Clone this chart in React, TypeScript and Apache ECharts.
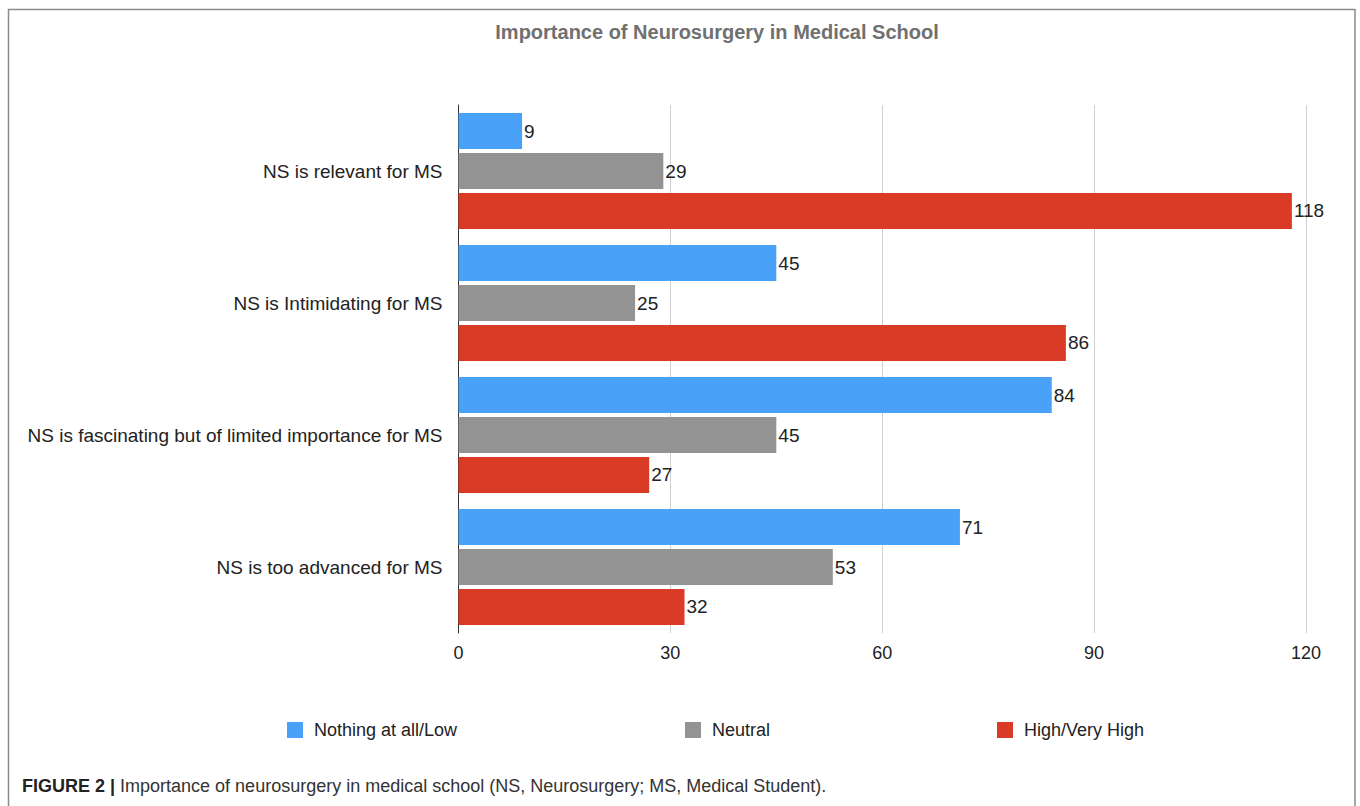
import React, { useEffect, useRef } from "react";
import * as echarts from "echarts";

const categories = [
  "NS is relevant for MS",
  "NS is Intimidating for MS",
  "NS is fascinating but of limited importance for MS",
  "NS is too advanced for MS",
];
const seriesNames = ["Nothing at all/Low", "Neutral", "High/Very High"];
const lowValues = [9, 45, 84, 71];
const neutralValues = [29, 25, 45, 53];
const highValues = [118, 86, 27, 32];
const xTicks = [0, 30, 60, 90, 120];

const COLORS = ["#4aa2f8", "#939393", "#da3b26"];
const FONT = "Liberation Sans, Helvetica, Arial, sans-serif";

export default function App() {
  const ref = useRef<HTMLDivElement>(null);
  useEffect(() => {
    if (!ref.current) return;
    const chart = echarts.init(ref.current, undefined, { renderer: "svg" });
    const dataSets = [lowValues, neutralValues, highValues];
    const legendLefts = [282, 680, 992];
    chart.setOption({
      animation: false,
      textStyle: { fontFamily: FONT },
      title: {
        text: "Importance of Neurosurgery in Medical School",
        left: 712,
        top: 17,
        textAlign: "center",
        textStyle: { fontSize: 20, fontWeight: "bold", color: "#707070", fontFamily: FONT },
      },
      legend: seriesNames.map((n, i) => ({
        data: [n],
        left: legendLefts[i],
        top: 716,
        itemWidth: 16,
        itemHeight: 16,
        icon: "rect",
        textStyle: { fontSize: 18, color: "#222", fontFamily: FONT, padding: [0, 0, 0, 6] },
      })),
      grid: { left: 458.5, right: 54, top: 105, bottom: 173, containLabel: false },
      xAxis: {
        type: "value",
        min: xTicks[0],
        max: xTicks[xTicks.length - 1],
        interval: 30,
        axisLine: { show: false },
        axisTick: { show: false },
        splitLine: { show: true, lineStyle: { color: "#d0d0d0", width: 1 } },
        axisLabel: { fontSize: 18, color: "#222", margin: 11, fontFamily: FONT },
      },
      yAxis: {
        type: "category",
        data: categories,
        inverse: true,
        axisLine: { show: true, lineStyle: { color: "#333", width: 1 } },
        axisTick: { show: false },
        axisLabel: { fontSize: 19, color: "#222", margin: 16, fontFamily: FONT },
      },
      series: seriesNames.map((n, i) => ({
        name: n,
        type: "bar",
        data: dataSets[i],
        barWidth: 36,
        barGap: "11%",
        itemStyle: { color: COLORS[i] },
        label: {
          show: true,
          position: "right",
          distance: 2,
          fontSize: 19,
          color: "#222",
          fontFamily: FONT,
        },
      })),
      graphic: [
        {
          type: "rect",
          shape: { x: 8.5, y: 9.5, width: 1346.5, height: 820 },
          style: { fill: "none", stroke: "#8a8a8a", lineWidth: 1.5 },
          silent: true,
        },
        {
          type: "text",
          left: 22,
          top: 777,
          style: {
            text: "{b|FIGURE 2 |} Importance of neurosurgery in medical school (NS, Neurosurgery; MS, Medical Student).",
            fontSize: 18,
            fill: "#333",
            fontFamily: FONT,
            rich: {
              b: { fontWeight: "bold", fontSize: 18, fill: "#222", fontFamily: FONT },
            },
          },
        },
      ],
    });
    return () => chart.dispose();
  }, []);
  return (
    <div
      ref={ref}
      style={{ position: "fixed", left: 0, top: 0, width: 1360, height: 806, background: "#fff" }}
    />
  );
}
